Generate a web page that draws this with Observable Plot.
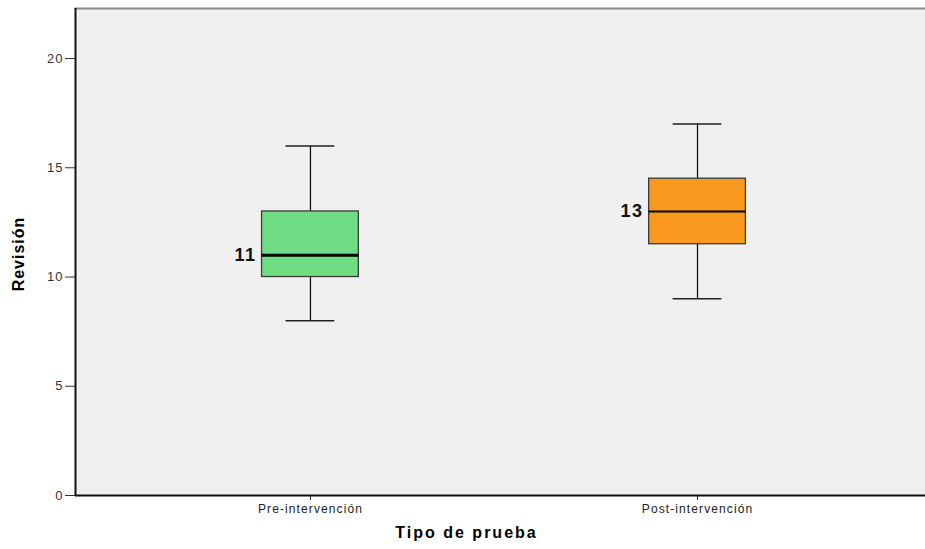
<!DOCTYPE html>
<html>
<head>
<meta charset="utf-8">
<script src="https://cdn.jsdelivr.net/npm/d3@7"></script>
<script src="https://cdn.jsdelivr.net/npm/@observablehq/plot@0.6"></script>
<style>
  html, body { margin: 0; padding: 0; background: #ffffff; }
  #chart svg { display: block; font-family: "Liberation Sans", Arial, sans-serif; }
  #chart g[aria-label="x-axis tick label"] text { letter-spacing: 1.1px; }
  #chart g[aria-label="y-axis tick label"] text { letter-spacing: 1px; }
</style>
</head>
<body>
<div id="chart"></div>
<script>
const categories = ["Pre-intervención", "Post-intervención"];
const whiskerLow = [8, 9];
const q1 = [10, 11.5];
const medians = [11, 13];
const q3 = [13, 14.5];
const whiskerHigh = [16, 17];
const fills = ["#70dc84", "#f99a1e"];
const yTicks = [0, 5, 10, 15, 20];
const yTitle = "Revisión";
const xTitle = "Tipo de prueba";

const data = categories.map((c, i) => ({
  idx: i, cat: c, lo: whiskerLow[i], q1: q1[i], med: medians[i], q3: q3[i], hi: whiskerHigh[i], fill: fills[i]
}));

const boxHalf = 0.125;
const capHalf = 0.063;

const chart = Plot.plot({
  width: 925,
  height: 549,
  marginLeft: 75,
  marginRight: 0,
  marginTop: 8,
  marginBottom: 54,
  style: { fontFamily: "Liberation Sans, Arial, sans-serif", background: "#ffffff" },
  x: { type: "linear", domain: [-0.607, 1.589], axis: null },
  y: { domain: [0, 22.29], axis: null },
  marks: [
    Plot.frame({ fill: "#f0f0f0", stroke: null }),
    Plot.frame({ anchor: "top", stroke: "#8a8a8a", strokeWidth: 2 }),
    // whiskers
    Plot.ruleX(data, { x: "idx", y1: "lo", y2: "q1", stroke: "#111", strokeWidth: 1.3 }),
    Plot.ruleX(data, { x: "idx", y1: "q3", y2: "hi", stroke: "#111", strokeWidth: 1.3 }),
    Plot.ruleY(data, { y: "lo", x1: d => d.idx - capHalf, x2: d => d.idx + capHalf, stroke: "#222", strokeWidth: 1.5 }),
    Plot.ruleY(data, { y: "hi", x1: d => d.idx - capHalf, x2: d => d.idx + capHalf, stroke: "#222", strokeWidth: 1.5 }),
    // boxes
    Plot.rect(data, {
      x1: d => d.idx - boxHalf, x2: d => d.idx + boxHalf, y1: "q1", y2: "q3",
      fill: d => d.fill, stroke: "#3a3a3a", strokeWidth: 1.3
    }),
    // medians
    Plot.ruleY(data, { y: "med", x1: d => d.idx - boxHalf, x2: d => d.idx + boxHalf, stroke: "#000", strokeWidth: d => d.idx === 0 ? 3 : 2 }),
    Plot.text(data, {
      x: "idx", y: "med", text: d => String(d.med), dx: -54, textAnchor: "end",
      fontWeight: "bold", fontSize: 18, fill: "#111"
    }),
    // axes
    Plot.axisY({ ticks: yTicks, tickSize: 10, tickPadding: 2, fontSize: 13, color: "#333", label: null, stroke: "#333" }),
    Plot.axisX({ ticks: [0, 1], tickSize: 5, tickPadding: 4, tickFormat: i => categories[i], fontSize: 12, color: "#222", label: null }),
    Plot.ruleX([-0.607], { stroke: "#111", strokeWidth: 2 }),
    Plot.ruleY([0], { stroke: "#111", strokeWidth: 2 }),
    // axis titles
    Plot.text([yTitle], { frameAnchor: "left", textAnchor: "middle", rotate: -90, dx: -57, dy: 2, fontWeight: "bold", fontSize: 16, fill: "#000" }),
    Plot.text([xTitle], { frameAnchor: "bottom", dx: -34, dy: 42, fontWeight: "bold", fontSize: 16, fill: "#000" })
  ]
});

const spacing = new Map([[yTitle, "1px"], [xTitle, "2px"]]);
medians.forEach(m => spacing.set(String(m), "1.5px"));
d3.select(chart).selectAll('g[aria-label="text"] text').each(function () {
  const s = spacing.get(this.textContent);
  if (s) this.style.letterSpacing = s;
});

document.getElementById("chart").appendChild(chart);
</script>
</body>
</html>
